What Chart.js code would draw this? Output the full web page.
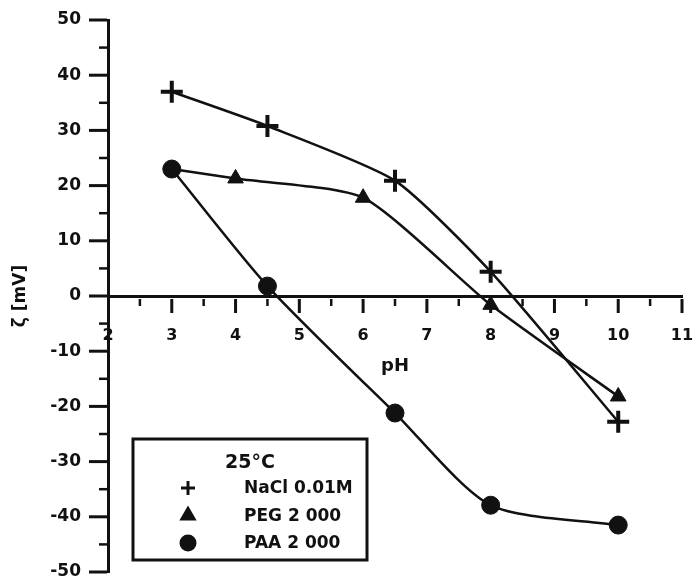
<!DOCTYPE html>
<html lang="en">
<head>
<meta charset="UTF-8" />
<title>Zeta potential vs pH</title>
<script src="https://cdn.jsdelivr.net/npm/chart.js"></script>
<style>
  html, body { margin: 0; padding: 0; background: #fff; }
  #wrap { width: 694px; height: 581px; }
</style>
</head>
<body>
<div id="wrap"><canvas id="zetaChart" width="694" height="581"></canvas></div>
<script>
// values (pH, zeta in mV)
const naclPH = [3, 4.5, 6.5, 8, 10];
const naclZeta = [37, 30.8, 20.9, 4.4, -22.8];
const pegPH = [3, 4, 6, 8, 10];
const pegZeta = [23, 21.3, 17.8, -1.6, -18.2];
const paaPH = [3, 4.5, 6.5, 8, 10];
const paaZeta = [23, 1.8, -21.2, -37.9, -41.5];

const legendTitle = "25°C";
const seriesNames = ["NaCl 0.01M", "PEG 2 000", "PAA 2 000"];

const FONT = "'DejaVu Sans', Arial, sans-serif";
const INK = "#111";

function toPoints(xs, ys) {
  return xs.map((x, i) => ({ x: x, y: ys[i] }));
}

// hand drawn tick marks: long ones on the labelled values, short ones between
const axisTicks = {
  id: "axisTicks",
  afterDraw(chart) {
    const ctx = chart.ctx;
    const xs = chart.scales.x;
    const ys = chart.scales.y;
    const y0 = ys.getPixelForValue(0);
    const xLeft = xs.getPixelForValue(2);
    ctx.save();
    ctx.strokeStyle = INK;
    ctx.lineCap = "butt";
    for (let v = 2.5; v <= 11; v += 0.5) {
      const px = xs.getPixelForValue(v);
      const major = Number.isInteger(v);
      ctx.lineWidth = major ? 3 : 2.5;
      ctx.beginPath();
      ctx.moveTo(px, y0 + 3);
      ctx.lineTo(px, y0 + (major ? 17 : 10));
      ctx.stroke();
    }
    for (let v = -50; v <= 50; v += 5) {
      const py = ys.getPixelForValue(v);
      const major = v % 10 === 0;
      ctx.lineWidth = major ? 3 : 2.5;
      ctx.beginPath();
      ctx.moveTo(xLeft - (major ? 19 : 9), py);
      ctx.lineTo(xLeft - 1, py);
      ctx.stroke();
    }
    ctx.restore();
  }
};

// boxed legend in the lower left corner of the plot
const boxLegend = {
  id: "boxLegend",
  afterDraw(chart) {
    const ctx = chart.ctx;
    const area = chart.chartArea;
    const left = area.left + 25;
    const top = area.bottom - 133;
    const w = 234, h = 121;
    ctx.save();
    ctx.fillStyle = "#fff";
    ctx.fillRect(left, top, w, h);
    ctx.strokeStyle = INK;
    ctx.lineWidth = 3;
    ctx.strokeRect(left, top, w, h);

    ctx.fillStyle = INK;
    ctx.textBaseline = "middle";
    ctx.textAlign = "center";
    ctx.font = "bold 19px " + FONT;
    ctx.fillText(legendTitle, left + 117, top + 24);

    ctx.textAlign = "left";
    ctx.font = "bold 17px " + FONT;
    chart.data.datasets.forEach((ds, i) => {
      const rowY = top + 49 + i * 27.5;
      ctx.fillStyle = INK;
      ctx.strokeStyle = INK;
      Chart.helpers.drawPoint(ctx, {
        pointStyle: ds.pointStyle,
        radius: 7,
        rotation: 0,
        borderWidth: ds.pointStyle === "cross" ? 3.5 : 1
      }, left + 55, rowY);
      ctx.fillText(seriesNames[i], left + 111, rowY + 1);
    });
    ctx.restore();
  }
};

const lineStyle = {
  showLine: true,
  borderColor: INK,
  backgroundColor: INK,
  borderWidth: 2.5,
  pointBorderColor: INK,
  pointBackgroundColor: INK,
  clip: false
};

const ctx = document.getElementById("zetaChart").getContext("2d");
const zetaChart = new Chart(ctx, {
  type: "scatter",
  data: {
    datasets: [
      Object.assign({}, lineStyle, {
        label: seriesNames[0],
        data: toPoints(naclPH, naclZeta),
        pointStyle: "cross",
        pointRadius: 11,
        pointBorderWidth: 4,
        tension: 0.2,
        order: 2
      }),
      Object.assign({}, lineStyle, {
        label: seriesNames[1],
        data: toPoints(pegPH, pegZeta),
        pointStyle: "triangle",
        pointRadius: 9,
        pointBorderWidth: 1,
        tension: 0.2,
        order: 1
      }),
      Object.assign({}, lineStyle, {
        label: seriesNames[2],
        data: toPoints(paaPH, paaZeta),
        pointStyle: "circle",
        pointRadius: 9,
        pointBorderWidth: 1,
        tension: 0.25,
        order: 0
      })
    ]
  },
  options: {
    responsive: false,
    animation: false,
    events: [],
    layout: { autoPadding: false, padding: { top: 20, right: 12, bottom: 9, left: 0 } },
    plugins: {
      legend: { display: false },
      tooltip: { enabled: false }
    },
    scales: {
      x: {
        type: "linear",
        position: { y: 0 },
        min: 2,
        max: 11,
        ticks: {
          stepSize: 1,
          color: INK,
          padding: 0,
          font: { family: FONT, size: 16, weight: "bold" }
        },
        grid: { drawOnChartArea: false, tickLength: 30, tickColor: "rgba(0,0,0,0)" },
        border: { display: true, color: INK, width: 3 },
        title: {
          display: true,
          text: "pH",
          color: INK,
          padding: { top: 10, bottom: 0 },
          font: { family: FONT, size: 18, weight: "bold" }
        }
      },
      y: {
        type: "linear",
        min: -50,
        max: 50,
        afterFit(scale) { scale.width = 108; },
        ticks: {
          stepSize: 10,
          color: INK,
          padding: 0,
          font: { family: FONT, size: 17, weight: "bold", lineHeight: 1 }
        },
        grid: { drawOnChartArea: false, tickLength: 27, tickColor: "rgba(0,0,0,0)" },
        border: { display: true, color: INK, width: 3 },
        title: {
          display: true,
          text: "ζ [mV]",
          color: INK,
          padding: { top: 10, bottom: 0 },
          font: { family: FONT, size: 17, weight: "bold" }
        }
      }
    }
  },
  plugins: [axisTicks, boxLegend]
});
</script>
</body>
</html>
